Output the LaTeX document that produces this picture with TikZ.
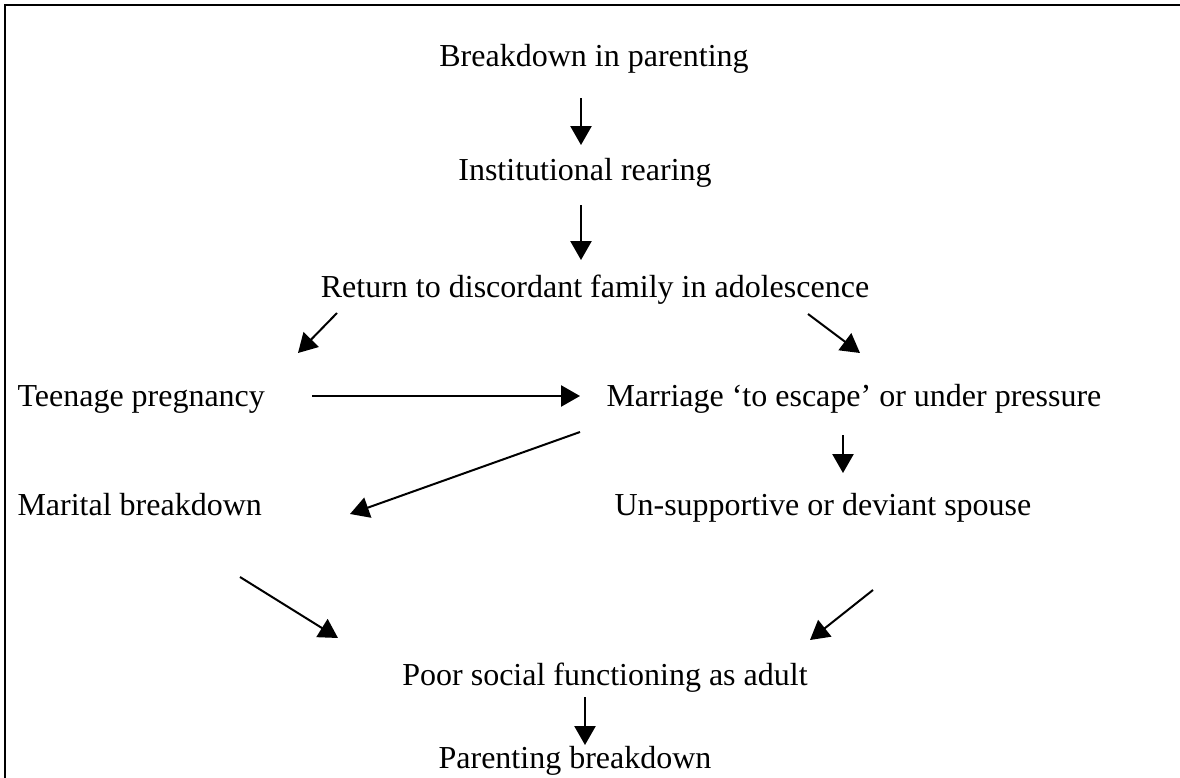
\documentclass[tikz,border=0pt]{standalone}
\usepackage{fontspec}
\setmainfont{Liberation Serif}
\usetikzlibrary{arrows.meta}
\begin{document}
\begin{tikzpicture}[x=0.375pt,y=-0.375pt,
  lbl/.style={inner sep=0pt, font=\fontsize{12}{14}\selectfont},
  arr/.style={line width=0.75pt, -{Triangle[width=7.9pt,length=7.1pt]}},
  frame/.style={line width=0.75pt}]
\useasboundingbox (0,0) rectangle (1180,778);
\draw[frame] (5,778) -- (5,5) -- (1180,5);
% texts
\node[lbl, anchor=base] (b1) at (594,66) {Breakdown in parenting};
\node[lbl, anchor=base] (b2) at (585,180) {Institutional rearing};
\node[lbl, anchor=base] (b3) at (595,297) {Return to discordant family in adolescence};
\node[lbl, anchor=base west] (tp) at (17,406) {Teenage pregnancy};
\node[lbl, anchor=base west] (mp) at (606,406) {Marriage `to escape' or under pressure};
\node[lbl, anchor=base west] (mb) at (17,515) {Marital breakdown};
\node[lbl, anchor=base west] (us) at (614,515) {Un-supportive or deviant spouse};
\node[lbl, anchor=base] (ps) at (605,685) {Poor social functioning as adult};
\node[lbl, anchor=base] (pb) at (575,768) {Parenting breakdown};
% connector end points
\coordinate (a1s) at (581,98);   \coordinate (a1e) at (581,145);
\coordinate (a2s) at (581,205);  \coordinate (a2e) at (581,260);
\coordinate (a3s) at (337,313);  \coordinate (a3e) at (298,353);
\coordinate (a4s) at (808,314);  \coordinate (a4e) at (860,353);
\coordinate (a5s) at (312,396);  \coordinate (a5e) at (580,396);
\coordinate (a6s) at (580,432);  \coordinate (a6e) at (350,514);
\coordinate (a7s) at (843,435);  \coordinate (a7e) at (843,473);
\coordinate (a8s) at (240,577);  \coordinate (a8e) at (338,638);
\coordinate (a9s) at (873,590);  \coordinate (a9e) at (810,640);
\coordinate (a10s) at (585,697); \coordinate (a10e) at (585,745);
% connectors
\draw[arr] (a1s) -- (a1e);
\draw[arr] (a2s) -- (a2e);
\draw[arr] (a3s) -- (a3e);
\draw[arr] (a4s) -- (a4e);
\draw[arr] (a5s) -- (a5e);
\draw[arr] (a6s) -- (a6e);
\draw[arr] (a7s) -- (a7e);
\draw[arr] (a8s) -- (a8e);
\draw[arr] (a9s) -- (a9e);
\draw[arr] (a10s) -- (a10e);
\end{tikzpicture}
\end{document}
